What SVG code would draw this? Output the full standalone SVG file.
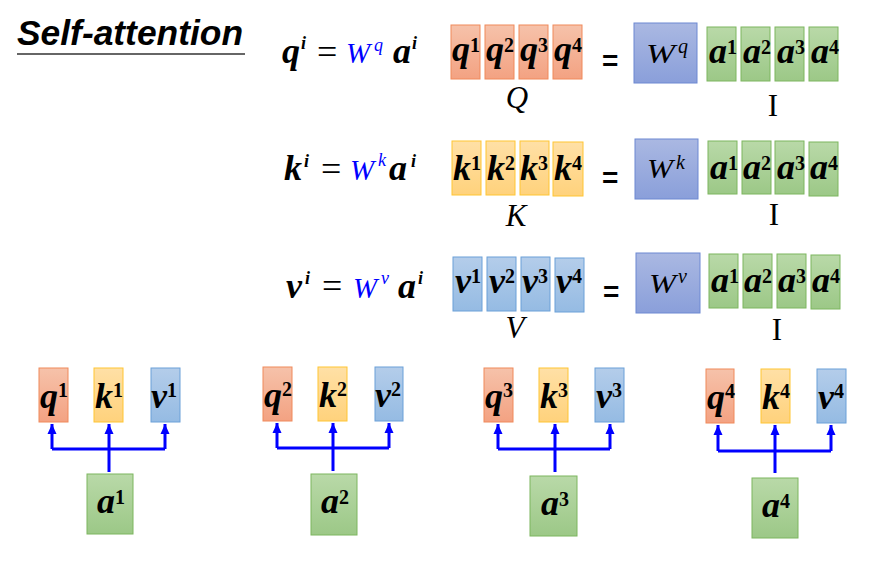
<svg xmlns="http://www.w3.org/2000/svg" width="870" height="568" viewBox="0 0 870 568">
<defs>
<linearGradient id="gr" x1="0" y1="0" x2="0" y2="1"><stop offset="0" stop-color="#F6C2AA"/><stop offset="1" stop-color="#F3A282"/></linearGradient>
<linearGradient id="gy" x1="0" y1="0" x2="0" y2="1"><stop offset="0" stop-color="#FFE0A6"/><stop offset="1" stop-color="#FFD27C"/></linearGradient>
<linearGradient id="gb" x1="0" y1="0" x2="0" y2="1"><stop offset="0" stop-color="#B4CDEA"/><stop offset="1" stop-color="#95BBE3"/></linearGradient>
<linearGradient id="gg" x1="0" y1="0" x2="0" y2="1"><stop offset="0" stop-color="#B9D9A8"/><stop offset="1" stop-color="#9CC887"/></linearGradient>
<linearGradient id="gw" x1="0" y1="0" x2="0" y2="1"><stop offset="0" stop-color="#AAB8E2"/><stop offset="1" stop-color="#8A9FDA"/></linearGradient>
<marker id="ah" markerUnits="userSpaceOnUse" markerWidth="11" markerHeight="10" viewBox="0 0 11 10" refX="10" refY="5" orient="auto"><path d="M0,0.5 L10,5 L0,9.5 Z" fill="#0000FF"/></marker>
<style>
.r{fill:url(#gr);stroke:#F0895B;stroke-width:1}
.y{fill:url(#gy);stroke:#FFC533;stroke-width:1}
.b{fill:url(#gb);stroke:#6BA0D8;stroke-width:1}
.g{fill:url(#gg);stroke:#7DB65E;stroke-width:1}
.w{fill:url(#gw);stroke:#6C88D2;stroke-width:1}
.m{font-family:"Liberation Serif","DejaVu Serif",serif;font-weight:bold;font-style:italic;font-size:36px;fill:#000}
.s{font-size:20px;font-style:normal}
.si{font-size:18px}
.n{font-weight:normal;font-style:normal}
.bl{fill:#0000FF;font-weight:normal}
.bw{font-size:29px}
.wt{font-family:"Liberation Serif","DejaVu Serif",serif;font-style:italic;font-size:28px;fill:#000}
.ws{font-family:"Liberation Serif","DejaVu Serif",serif;font-style:italic;font-size:20px;fill:#000}
.lab{font-family:"Liberation Serif","DejaVu Serif",serif;font-size:31px;fill:#000}
.eq{font-family:"Liberation Sans",Arial,sans-serif;font-weight:bold;font-size:28px;fill:#000}
.c{fill:none;stroke:#0000FF;stroke-width:3}
</style>
</defs>
<rect width="870" height="568" fill="#FFFFFF"/>

<g id="title">
<text x="17" y="45" font-family="'Liberation Sans',Arial,sans-serif" font-weight="bold" font-style="italic" font-size="35" textLength="226" lengthAdjust="spacingAndGlyphs" fill="#000">Self-attention</text>
<line x1="17" y1="54" x2="245" y2="54" stroke="#333" stroke-width="1.5"/>
</g>

<g id="eq-q"><text class="m" y="63"><tspan x="282">q</tspan><tspan class="si" x="301" y="49">i</tspan><tspan class="n" x="317" y="64">=</tspan><tspan class="bl bw" x="346" y="63">W</tspan><tspan class="bl si" x="374" y="51">q</tspan><tspan x="393" y="63">a</tspan><tspan class="si" x="412" y="49">i</tspan></text></g>
<g id="eq-k"><text class="m" y="180"><tspan x="284">k</tspan><tspan class="si" x="304" y="167">i</tspan><tspan class="n" x="321" y="181">=</tspan><tspan class="bl bw" x="350" y="180">W</tspan><tspan class="bl si" x="378" y="166">k</tspan><tspan x="389" y="180">a</tspan><tspan class="si" x="411" y="167">i</tspan></text></g>
<g id="eq-v"><text class="m" y="298"><tspan x="286">v</tspan><tspan class="si" x="305" y="284">i</tspan><tspan class="n" x="322" y="298">=</tspan><tspan class="bl bw" x="353" y="298">W</tspan><tspan class="bl si" x="381" y="284">v</tspan><tspan x="398" y="298">a</tspan><tspan class="si" x="418" y="284">i</tspan></text></g>

<!-- Row 1 -->
<g id="Q1"><rect class="r" x="451" y="25" width="29" height="54"/><text class="m" x="452" y="61">q<tspan class="s" dy="-9">1</tspan></text></g>
<g id="Q2"><rect class="r" x="485" y="25" width="29" height="54"/><text class="m" x="486" y="61">q<tspan class="s" dy="-9">2</tspan></text></g>
<g id="Q3"><rect class="r" x="519" y="25" width="29" height="54"/><text class="m" x="520" y="61">q<tspan class="s" dy="-9">3</tspan></text></g>
<g id="Q4"><rect class="r" x="553" y="25" width="29" height="54"/><text class="m" x="554" y="61">q<tspan class="s" dy="-9">4</tspan></text></g>
<g id="Q-label"><text class="lab" x="517" y="108" text-anchor="middle" font-style="italic">Q</text></g>
<g id="eq1"><text class="eq" x="602" y="70">=</text></g>
<g id="Wq"><rect class="w" x="634" y="23" width="63" height="60"/><text class="wt" x="646" y="63" textLength="29" lengthAdjust="spacingAndGlyphs">W</text><text class="ws" x="678" y="53">q</text></g>
<g id="A1-1"><rect class="g" x="707" y="27" width="29" height="54"/><text class="m" x="709" y="63">a<tspan class="s" dy="-9">1</tspan></text></g>
<g id="A1-2"><rect class="g" x="741" y="27" width="29" height="54"/><text class="m" x="743" y="63">a<tspan class="s" dy="-9">2</tspan></text></g>
<g id="A1-3"><rect class="g" x="775" y="27" width="29" height="54"/><text class="m" x="777" y="63">a<tspan class="s" dy="-9">3</tspan></text></g>
<g id="A1-4"><rect class="g" x="809" y="27" width="29" height="54"/><text class="m" x="811" y="63">a<tspan class="s" dy="-9">4</tspan></text></g>
<g id="I1"><text class="lab" x="773" y="116" text-anchor="middle">I</text></g>

<!-- Row 2 -->
<g id="K1"><rect class="y" x="452" y="141" width="29" height="54"/><text class="m" x="453" y="180">k<tspan class="s" dy="-10">1</tspan></text></g>
<g id="K2"><rect class="y" x="486" y="141" width="29" height="54"/><text class="m" x="487" y="180">k<tspan class="s" dy="-10">2</tspan></text></g>
<g id="K3"><rect class="y" x="520" y="141" width="29" height="54"/><text class="m" x="520" y="180">k<tspan class="s" dy="-10">3</tspan></text></g>
<g id="K4"><rect class="y" x="553" y="142" width="30" height="54"/><text class="m" x="554" y="180">k<tspan class="s" dy="-10">4</tspan></text></g>
<g id="K-label"><text class="lab" x="516" y="226" text-anchor="middle" font-style="italic">K</text></g>
<g id="eq2"><text class="eq" x="602" y="187">=</text></g>
<g id="Wk"><rect class="w" x="635" y="139" width="63" height="60"/><text class="wt" x="647" y="178" textLength="26" lengthAdjust="spacingAndGlyphs">W</text><text class="ws" x="676" y="169">k</text></g>
<g id="A2-1"><rect class="g" x="708" y="141" width="29" height="53"/><text class="m" x="710" y="179">a<tspan class="s" dy="-9">1</tspan></text></g>
<g id="A2-2"><rect class="g" x="742" y="141" width="29" height="53"/><text class="m" x="743" y="179">a<tspan class="s" dy="-9">2</tspan></text></g>
<g id="A2-3"><rect class="g" x="775" y="141" width="29" height="53"/><text class="m" x="777" y="179">a<tspan class="s" dy="-9">3</tspan></text></g>
<g id="A2-4"><rect class="g" x="809" y="142" width="29" height="54"/><text class="m" x="810" y="179">a<tspan class="s" dy="-9">4</tspan></text></g>
<g id="I2"><text class="lab" x="774" y="225" text-anchor="middle">I</text></g>

<!-- Row 3 -->
<g id="V1"><rect class="b" x="453" y="257" width="29" height="54"/><text class="m" x="455" y="293">v<tspan class="s" dy="-10">1</tspan></text></g>
<g id="V2"><rect class="b" x="487" y="257" width="29" height="54"/><text class="m" x="489" y="293">v<tspan class="s" dy="-10">2</tspan></text></g>
<g id="V3"><rect class="b" x="521" y="257" width="29" height="54"/><text class="m" x="522" y="293">v<tspan class="s" dy="-10">3</tspan></text></g>
<g id="V4"><rect class="b" x="555" y="258" width="29" height="54"/><text class="m" x="556" y="293">v<tspan class="s" dy="-10">4</tspan></text></g>
<g id="V-label"><text class="lab" x="515" y="338" text-anchor="middle" font-style="italic">V</text></g>
<g id="eq3"><text class="eq" x="603" y="301">=</text></g>
<g id="Wv"><rect class="w" x="636" y="253" width="64" height="60"/><text class="wt" x="649" y="293" textLength="27" lengthAdjust="spacingAndGlyphs">W</text><text class="ws" x="678" y="283">v</text></g>
<g id="A3-1"><rect class="g" x="709" y="254" width="29" height="54"/><text class="m" x="711" y="292">a<tspan class="s" dy="-9">1</tspan></text></g>
<g id="A3-2"><rect class="g" x="743" y="254" width="29" height="54"/><text class="m" x="744" y="292">a<tspan class="s" dy="-9">2</tspan></text></g>
<g id="A3-3"><rect class="g" x="777" y="254" width="29" height="54"/><text class="m" x="778" y="292">a<tspan class="s" dy="-9">3</tspan></text></g>
<g id="A3-4"><rect class="g" x="811" y="255" width="29" height="54"/><text class="m" x="812" y="292">a<tspan class="s" dy="-9">4</tspan></text></g>
<g id="I3"><text class="lab" x="777" y="340" text-anchor="middle">I</text></g>

<!-- Bottom groups -->
<g id="q1"><rect class="r" x="39" y="368" width="29" height="54"/><text class="m" x="40" y="408">q<tspan class="s" dy="-11">1</tspan></text></g>
<g id="k1"><rect class="y" x="94" y="368" width="29" height="54"/><text class="m" x="95" y="408">k<tspan class="s" dy="-11">1</tspan></text></g>
<g id="v1"><rect class="b" x="151" y="368" width="29" height="54"/><text class="m" x="151" y="408">v<tspan class="s" dy="-11">1</tspan></text></g>
<g id="a1"><rect class="g" x="87" y="474" width="46" height="60"/><text class="m" x="97" y="513">a<tspan class="s" dy="-9">1</tspan></text></g>

<g id="q2"><rect class="r" x="263" y="367" width="29" height="54"/><text class="m" x="264" y="407">q<tspan class="s" dy="-11">2</tspan></text></g>
<g id="k2"><rect class="y" x="318" y="367" width="29" height="54"/><text class="m" x="319" y="407">k<tspan class="s" dy="-11">2</tspan></text></g>
<g id="v2"><rect class="b" x="375" y="367" width="28" height="54"/><text class="m" x="375" y="407">v<tspan class="s" dy="-11">2</tspan></text></g>
<g id="a2"><rect class="g" x="311" y="474" width="46" height="61"/><text class="m" x="321" y="513">a<tspan class="s" dy="-9">2</tspan></text></g>

<g id="q3"><rect class="r" x="484" y="368" width="29" height="54"/><text class="m" x="485" y="408">q<tspan class="s" dy="-11">3</tspan></text></g>
<g id="k3"><rect class="y" x="539" y="368" width="29" height="54"/><text class="m" x="540" y="408">k<tspan class="s" dy="-11">3</tspan></text></g>
<g id="v3"><rect class="b" x="595" y="368" width="29" height="54"/><text class="m" x="596" y="408">v<tspan class="s" dy="-11">3</tspan></text></g>
<g id="a3"><rect class="g" x="530" y="476" width="47" height="60"/><text class="m" x="541" y="515">a<tspan class="s" dy="-9">3</tspan></text></g>

<g id="q4"><rect class="r" x="706" y="369" width="28" height="54"/><text class="m" x="707" y="409">q<tspan class="s" dy="-11">4</tspan></text></g>
<g id="k4"><rect class="y" x="761" y="369" width="29" height="54"/><text class="m" x="762" y="409">k<tspan class="s" dy="-11">4</tspan></text></g>
<g id="v4"><rect class="b" x="817" y="369" width="29" height="54"/><text class="m" x="818" y="409">v<tspan class="s" dy="-11">4</tspan></text></g>
<g id="a4"><rect class="g" x="752" y="478" width="46" height="60"/><text class="m" x="762" y="517">a<tspan class="s" dy="-9">4</tspan></text></g>

<g id="connectors">
<path class="c" d="M109,472 V449 M52,449 H165"/>
<path class="c" d="M52,449 V424" marker-end="url(#ah)"/>
<path class="c" d="M109,449 V424" marker-end="url(#ah)"/>
<path class="c" d="M165,449 V424" marker-end="url(#ah)"/>

<path class="c" d="M333,471 V448 M277,448 H389"/>
<path class="c" d="M277,448 V423" marker-end="url(#ah)"/>
<path class="c" d="M333,448 V423" marker-end="url(#ah)"/>
<path class="c" d="M389,448 V423" marker-end="url(#ah)"/>

<path class="c" d="M555,472 V449 M498,449 H610"/>
<path class="c" d="M498,449 V424" marker-end="url(#ah)"/>
<path class="c" d="M555,449 V424" marker-end="url(#ah)"/>
<path class="c" d="M610,449 V424" marker-end="url(#ah)"/>

<path class="c" d="M775,473 V451 M718,451 H831"/>
<path class="c" d="M718,451 V425" marker-end="url(#ah)"/>
<path class="c" d="M775,451 V425" marker-end="url(#ah)"/>
<path class="c" d="M831,451 V425" marker-end="url(#ah)"/>
</g>
</svg>
